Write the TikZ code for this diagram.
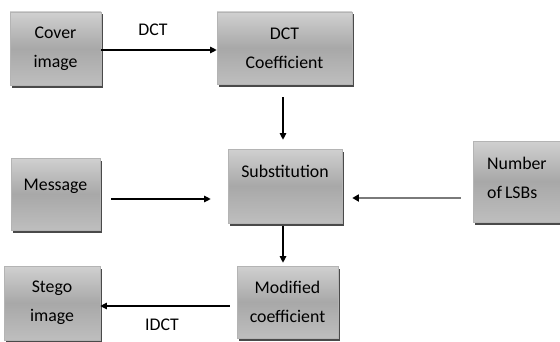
\documentclass[tikz,border=0pt]{standalone}
\usepackage{fontspec}
\setmainfont{Carlito}
\usetikzlibrary{shadows,arrows.meta}
\definecolor{boxtop}{HTML}{D0D0D0}
\definecolor{boxmid}{HTML}{A8A8A8}
\definecolor{boxbot}{HTML}{BEBEBE}
\definecolor{boxline}{HTML}{B4B4B4}
\definecolor{shadowc}{HTML}{4A4A4A}
\definecolor{lsbline}{HTML}{7A7A7A}
\tikzset{
  box/.style={draw=boxline, line width=0.6pt, top color=boxtop, bottom color=boxbot, middle color=boxmid,
    drop shadow={shadow xshift=2.2pt, shadow yshift=-2.5pt, fill=shadowc, opacity=1},
    inner sep=0pt},
  txt/.style={font=\fontsize{17.8}{29}\selectfont, align=center, inner sep=0pt},
  arr/.style={line width=1.1pt, -{Triangle[length=6.5pt,width=6.5pt]}},
}
\begin{document}
\begin{tikzpicture}[x=1pt,y=1pt]
\useasboundingbox (0,0) rectangle (560,341);
% boxes
\node[box, minimum width=91pt, minimum height=73pt] (cover) at (55.5,292.5) {};
\node[box, minimum width=135pt, minimum height=72pt] (dctc) at (284.5,293) {};
\node[box, minimum width=89pt, minimum height=72pt] (msg) at (55.5,147) {};
\node[box, minimum width=114pt, minimum height=74pt] (sub) at (285,155) {};
\node[box, minimum width=93pt, minimum height=81pt] (lsb) at (519.5,159.5) {};
\node[box, minimum width=101pt, minimum height=72pt] (mod) at (287.5,39) {};
\node[box, minimum width=96pt, minimum height=74pt] (stego) at (52,38) {};
% texts
\node[txt] (tcover) at (cover.center) {Cover\\image};
\node[txt] (tdctc) at (dctc.center) {DCT\\Coefficient};
\node[txt] (tmsg) at ([yshift=8pt]msg.center) {Message};
\node[txt] (tsub) at ([yshift=15pt]sub.center) {Substitution};
\node[txt, align=left, anchor=west] (tlsb) at ([xshift=-32.5pt,yshift=4pt]lsb.center) {Number\\of\hspace{-1pt} LSBs};
\node[txt] (tmod) at (mod.center) {Modified\\coefficient};
\node[txt] (tstego) at (stego.center) {Stego\\image};
% connectors
\draw[arr] ([yshift=-1.5pt]cover.east) -- ([yshift=-1.5pt]cover.east -| dctc.west);
\node[txt] (ldct) at (153,311) {DCT};
\draw[arr, shorten <=13pt, shorten >=9pt] ([xshift=-1.5pt]dctc.south) -- ([xshift=-1.5pt]dctc.south |- sub.north);
\draw[arr, shorten <=11pt, shorten >=17pt] ([yshift=-5pt]msg.east) -- ([yshift=-5pt]msg.east -| sub.west);
\draw[line width=1.8pt, draw=lsbline, -{Triangle[length=6.5pt,width=7pt,color=black]}, shorten <=12pt, shorten >=10pt] ([yshift=-16.5pt]lsb.west) -- ([yshift=-16.5pt]lsb.west -| sub.east);
\draw[arr, shorten <=2.5pt, shorten >=3pt] ([xshift=-2pt]sub.south) -- ([xshift=-2pt]sub.south |- mod.north);
\draw[arr, shorten <=7pt] ([yshift=-4pt]mod.west) -- ([yshift=-4pt]mod.west -| stego.east);
\node[txt] (lidct) at (162,16.5) {IDCT};
\end{tikzpicture}
\end{document}
